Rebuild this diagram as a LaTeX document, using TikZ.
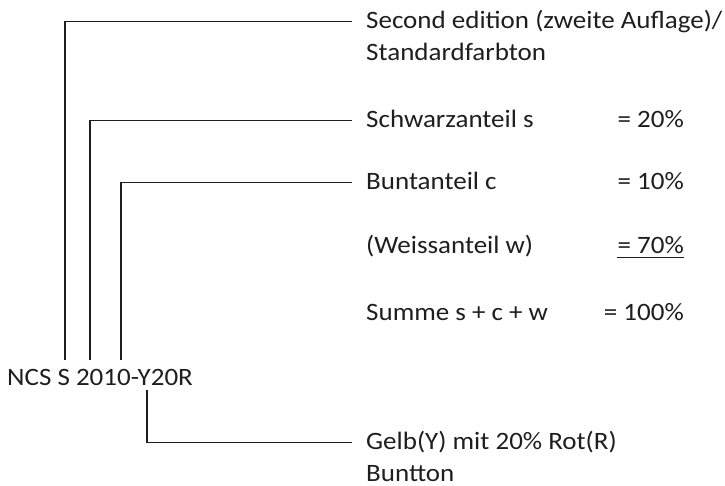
\documentclass[tikz,border=0pt]{standalone}
\usepackage{fontspec}
\setmainfont{Carlito}[FakeStretch=1.08]
\usepackage{tikz}
\usetikzlibrary{calc}
\definecolor{ink}{HTML}{1E1E1E}
\tikzset{
  txt/.style={inner sep=0pt, text=ink, font=\fontsize{25}{32}\selectfont,
              text height=17pt, text depth=3pt},
  leader/.style={draw=ink, line width=1.3pt},
}
\begin{document}
\begin{tikzpicture}[x=1pt,y=-1pt]
    \useasboundingbox (0,0) rectangle (725,486);
    % Colour code
    \node[txt, anchor=base west] (ncs) at (7,385) {NCS S 2010-Y20R};
    \coordinate (kS) at (65,360);
    \coordinate (k2) at (90,360);
    \coordinate (k0) at (121,360);
    \coordinate (kY) at (147,390);
    % Labels
    \node[txt, anchor=base west] (ed) at (366,28.5) {Second edition (zweite Auflage)/};
    \node[txt, anchor=base west] (std) at (366,61) {Standardfarbton};
    \node[txt, anchor=base west] (sw) at (366,127.5) {Schwarzanteil s};
    \node[txt, anchor=base west] (bu) at (366,189.5) {Buntanteil c};
    \node[txt, anchor=base west] (we) at (366,254) {(Weissanteil w)};
    \node[txt, anchor=base west] (su) at (366,320) {Summe s + c + w};
    \node[txt, anchor=base west] (ge) at (366,449.5) {Gelb(Y) mit 20\% Rot(R)};
    \node[txt, anchor=base west] (bt) at (366,481) {Buntton};
    % Values
    \node[txt, anchor=base east] (swv) at (684,127.5) {= 20\%};
    \node[txt, anchor=base east] (buv) at (684,189.5) {= 10\%};
    \node[txt, anchor=base east] (wev) at (684,254) {= 70\%};
    \node[txt, anchor=base east] (suv) at (684,320) {= 100\%};
    \draw[draw=ink, line width=1pt] (wev.south west) -- (wev.south east);
    %
    % Leader lines:
    \draw[leader] (kS) |- ([xshift=-14pt]ed.west);
    \draw[leader] (k2) |- ([xshift=-14pt]sw.west);
    \draw[leader] (k0) |- ([xshift=-14pt]bu.west);
    \draw[leader] (kY) |- ([xshift=-14pt]ge.west);
\end{tikzpicture}
\end{document}
